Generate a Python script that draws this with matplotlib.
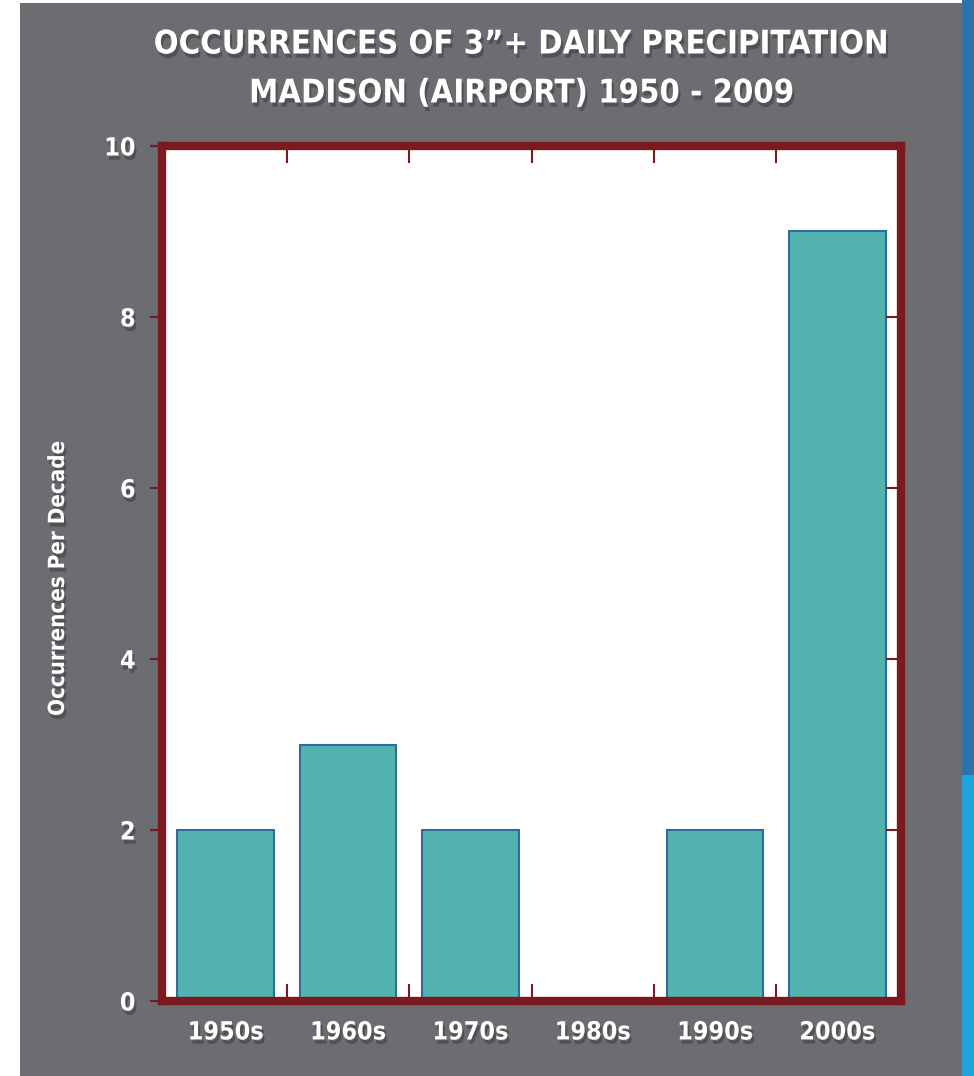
import matplotlib
matplotlib.use("Agg")
import matplotlib.pyplot as plt
import matplotlib.patheffects as pe
from matplotlib import font_manager
from matplotlib.patches import Rectangle

decades = ["1950s", "1960s", "1970s", "1980s", "1990s", "2000s"]
occurrences = [2, 3, 2, 0, 2, 9]
y_ticks = [0, 2, 4, 6, 8, 10]
title_lines = ["OCCURRENCES OF 3\u201d+ DAILY PRECIPITATION", "MADISON (AIRPORT) 1950 - 2009"]
y_label = "Occurrences Per Decade"

# pick a narrow bold face if available
names = {f.name for f in font_manager.fontManager.ttflist}
if "Liberation Sans Narrow" in names:
    narrow = "Liberation Sans Narrow"
    stretch = "normal"
else:
    narrow = "DejaVu Sans"
    stretch = "condensed"

gray = "#6c6d71"
red = "#7a1a1f"
teal = "#53b3b1"
edge = "#2f6b9c"

shadow = [pe.SimplePatchShadow(offset=(1.5, -3), shadow_rgbFace="black", alpha=0.25), pe.Normal()]

fig = plt.figure(figsize=(9.74, 10.76), dpi=100, facecolor="white")
# grey panel and blue strip at the right edge
fig.patches.append(Rectangle((20 / 974, 0), 942 / 974, 1073 / 1076, transform=fig.transFigure,
                             facecolor=gray, edgecolor="none", zorder=-10))
fig.patches.append(Rectangle((962 / 974, 0), 12 / 974, 1, transform=fig.transFigure,
                             facecolor="#2a73ab", edgecolor="none", zorder=-10))
fig.patches.append(Rectangle((962 / 974, 0), 12 / 974, 0.28, transform=fig.transFigure,
                             facecolor="#1ea3dd", edgecolor="none", zorder=-9))

ax = fig.add_axes([162 / 974, 75 / 1076, 739 / 974, 855 / 1076])
ax.set_facecolor("white")

x = list(range(len(decades)))
ax.bar(x, occurrences, width=0.79, color=teal, edgecolor=edge, linewidth=1.5, zorder=2)

ax.set_xlim(-0.52, len(decades) - 0.48)
ax.set_ylim(0, 10)

for s in ax.spines.values():
    s.set_color(red)
    s.set_linewidth(6)
    s.set_zorder(5)

ax.set_yticks(y_ticks)
ax.set_yticklabels([str(v) for v in y_ticks], color="white", fontsize=18, fontweight="bold",
                   family=narrow, fontstretch=stretch)
for lab in ax.get_yticklabels():
    lab.set_path_effects(shadow)
ax.tick_params(axis="y", which="major", direction="out", length=9, width=1.5, color=red,
               left=True, right=False, pad=10)
# right side ticks, pointing inward
ax2 = ax.twinx()
ax2.set_ylim(0, 10)
ax2.set_yticks(y_ticks[1:-1])
ax2.set_yticklabels([])
ax2.tick_params(axis="y", direction="in", length=11, width=1.5, color=red)
for s in ax2.spines.values():
    s.set_visible(False)

ax.set_xticks(x)
ax.set_xticklabels(decades, color="white", fontsize=18, fontweight="bold",
                   family=narrow, fontstretch=stretch)
for lab in ax.get_xticklabels():
    lab.set_path_effects(shadow)
ax.tick_params(axis="x", which="major", length=0, pad=14)
ax.set_xticks([i + 0.5 for i in x[:-1]], minor=True)
ax.tick_params(axis="x", which="minor", direction="in", length=12, width=1.5, color=red,
               top=True, bottom=True)

fig.text(58 / 974, 1 - 578 / 1076, y_label, rotation=90, ha="center", va="center",
         color="white", fontsize=16, fontweight="bold", family=narrow, fontstretch=stretch,
         path_effects=shadow)

fig.text(522 / 974, 1 - 44 / 1076, title_lines[0], ha="center", va="center", color="white",
         fontsize=23.5, fontweight="bold", family=narrow, fontstretch=stretch, path_effects=shadow)
fig.text(522 / 974, 1 - 93 / 1076, title_lines[1], ha="center", va="center", color="white",
         fontsize=23.5, fontweight="bold", family=narrow, fontstretch=stretch, path_effects=shadow)

fig.savefig("out.png", dpi=100, facecolor=fig.get_facecolor())
